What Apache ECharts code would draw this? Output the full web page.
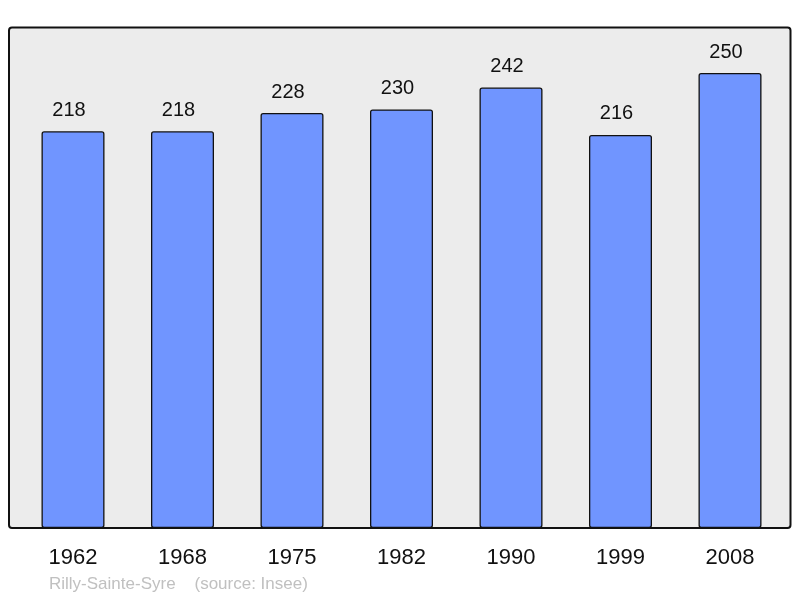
<!DOCTYPE html>
<html><head><meta charset="utf-8">
<script src="https://cdn.jsdelivr.net/npm/echarts@6/dist/echarts.min.js"></script>
<style>html,body{margin:0;padding:0;background:#fff}#c{width:800px;height:598px}</style>
</head><body><div id="c"></div>
<script>
const categories = ['1962','1968','1975','1982','1990','1999','2008'];
const population = [218,218,228,230,242,216,250];
const footnote = 'Rilly-Sainte-Syre    (source: Insee)';

const chart = echarts.init(document.getElementById('c'), null, {renderer:'canvas'});
chart.setOption({
  animation:false,
  backgroundColor:'#ffffff',
  graphic:[
    {type:'rect', z:-10, shape:{x:9,y:27.5,width:781.5,height:500.5,r:3},
     style:{fill:'#ececec',stroke:'#111',lineWidth:2}},
    {type:'text', left:49, top:576, style:{text:footnote, fill:'#c0c0c0', font:'17px "Liberation Sans", Arial, sans-serif'}}
  ],
  grid:{left:18.25, right:15.25, top:27.5, bottom:70},
  xAxis:{type:'category', data:categories,
    axisLine:{show:false}, axisTick:{show:false},
    axisLabel:{margin:19, fontSize:22, color:'#111', fontFamily:'"Liberation Sans", Arial, sans-serif'}},
  yAxis:{type:'value', min:0, max:275, show:false, splitLine:{show:false}},
  series:[{type:'bar', data:population, barWidth:63,
    itemStyle:{color:'#7095ff', borderColor:'#111', borderWidth:1.3, borderRadius:2},
    label:{show:true, position:'top', distance:11, offset:[-4,0], fontSize:20, color:'#111',
      fontFamily:'"Liberation Sans", Arial, sans-serif'}}]
});
</script></body></html>
